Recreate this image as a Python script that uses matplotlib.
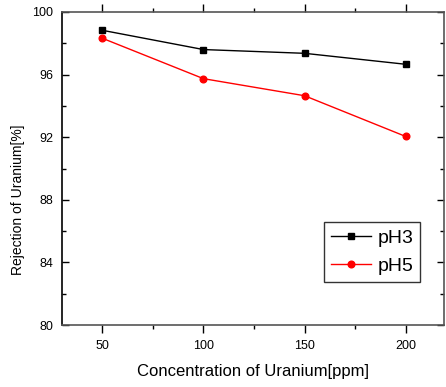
import numpy as np
import matplotlib.pyplot as plt
from matplotlib.ticker import MultipleLocator

# data
conc = [50, 100, 150, 200]
ph3 = [98.83, 97.60, 97.36, 96.66]
ph5 = [98.32, 95.74, 94.65, 92.05]

plt.rcParams['font.family'] = ['Liberation Sans', 'DejaVu Sans']

fig = plt.figure(figsize=(4.46, 3.87), dpi=100)
ax = fig.add_axes([62 / 446, 1 - 325 / 387, (444 - 62) / 446, (325 - 12) / 387])

ax.plot(conc, ph3, color='black', lw=1.0, marker='s', ms=5, label='pH3')
ax.plot(conc, ph5, color='red', lw=1.0, marker='o', ms=4.8, label='pH5')

ax.set_xlim(30, 219)
ax.set_ylim(80, 100)
ax.xaxis.set_major_locator(MultipleLocator(50))
ax.xaxis.set_minor_locator(MultipleLocator(25))
ax.yaxis.set_major_locator(MultipleLocator(4))
ax.yaxis.set_minor_locator(MultipleLocator(2))

ax.tick_params(axis='x', which='both', direction='out', top=True, labelsize=9, pad=4.5)
ax.tick_params(axis='x', which='major', length=6, width=1)
ax.tick_params(axis='x', which='minor', length=3, width=1)
ax.tick_params(axis='y', which='both', direction='in', right=True, labelsize=9, pad=6.5)
ax.tick_params(axis='y', which='major', length=5, width=1)
ax.tick_params(axis='y', which='minor', length=3, width=1)

for s in ['bottom', 'top', 'right']:
    ax.spines[s].set_color('#555555')
    ax.spines[s].set_linewidth(1.2)
ax.spines['left'].set_color('black')
ax.spines['left'].set_linewidth(1.2)

ax.set_xlabel('Concentration of Uranium[ppm]', fontsize=12, labelpad=9)
ax.set_ylabel('Rejection of Uranium[%]', fontsize=10)
ax.yaxis.set_label_coords(-0.097, 0.40)

leg = ax.legend(loc='lower right', bbox_to_anchor=(420 / 446, 1 - 282 / 387),
                bbox_transform=fig.transFigure, borderaxespad=0, fontsize=14,
                frameon=True, fancybox=False, edgecolor='black', handlelength=2.1,
                borderpad=0.35, labelspacing=0.55, handletextpad=0.3)
leg.get_frame().set_linewidth(1.0)

fig.savefig('out.png', dpi=100)
